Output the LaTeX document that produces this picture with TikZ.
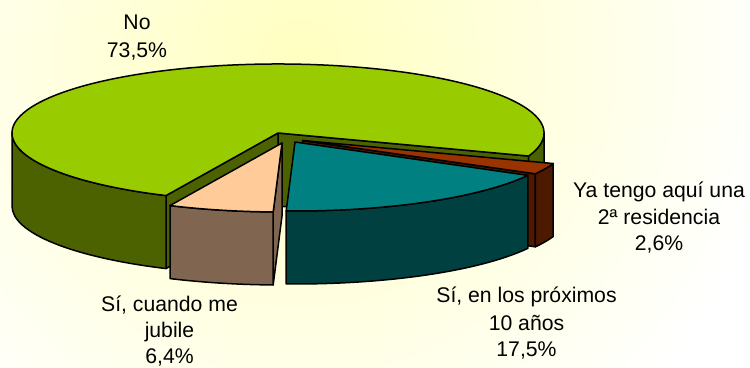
\documentclass[tikz,border=0pt]{standalone}
\usepackage{fontspec}
\setmainfont{Liberation Sans}
\definecolor{bgIn}{HTML}{FFFFC0}
\definecolor{noTop}{HTML}{99CC00}
\definecolor{noSide}{HTML}{4C6100}
\definecolor{siTop}{HTML}{008080}
\definecolor{siSide}{HTML}{004040}
\definecolor{yaTop}{HTML}{993300}
\definecolor{yaSide}{HTML}{4D1A00}
\definecolor{juTop}{HTML}{FFCC99}
\definecolor{juSide}{HTML}{806650}
% cut face: cx, cy, angle, colour
\newcommand\pieCut[4]{\filldraw[edge,fill=#4] (#1,#2) -- ({#1+266*cos(#3)},{#2+69*sin(#3)}) -- ++(0,-73) -- (#1,#2-73) -- cycle;}
% outer wall: cx, cy, a, b, colour
\newcommand\pieWall[5]{\filldraw[edge,fill=#5] ({#1+266*cos(#3)},{#2+69*sin(#3)}) arc[start angle=#3,end angle=#4,x radius=266,y radius=69] -- ++(0,-73) arc[start angle=#4,end angle=#3,x radius=266,y radius=69] -- cycle;}
% top face: cx, cy, a, b, colour
\newcommand\pieTop[5]{\filldraw[edge,fill=#5] (#1,#2) -- ({#1+266*cos(#3)},{#2+69*sin(#3)}) arc[start angle=#3,end angle=#4,x radius=266,y radius=69] -- cycle;}
\begin{document}
\begin{tikzpicture}[x=1pt,y=1pt,
  edge/.style={draw=black,line width=1.5pt,line join=round},
  lbl/.style={inner sep=0pt,anchor=base,font=\fontsize{21.2}{26}\selectfont}]
\useasboundingbox (0,0) rectangle (750,367);
\fill[white] (0,0) rectangle (750,367);
\begin{scope}
  \clip (0,0) rectangle (750,367);
  \shade[inner color=bgIn,outer color=white] (300,307) circle (480);
\end{scope}
% No (73,5%)
\pieCut{278}{234}{-19.5}{noSide}
\pieCut{278}{234}{245.1}{noSide}
\pieWall{278}{234}{-19.5}{0}{noSide}
\pieWall{278}{234}{180}{245.1}{noSide}
\pieTop{278}{234}{-19.5}{245.1}{noTop}
% Ya tengo aqui una 2a residencia (2,6%)
\pieCut{302.5}{226.5}{331.1}{yaSide}
\pieWall{302.5}{226.5}{331.1}{340.5}{yaSide}
\pieTop{302.5}{226.5}{331.1}{340.5}{yaTop}
% Si, en los proximos 10 anos (17,5%)
\pieWall{295}{225}{268.1}{331.1}{siSide}
\pieTop{295}{225}{268.1}{331.1}{siTop}
% Si, cuando me jubile (6,4%)
\pieCut{282}{224}{268.1}{juSide}
\pieWall{282}{224}{245.1}{268.1}{juSide}
\pieTop{282}{224}{245.1}{268.1}{juTop}
% labels
\node[lbl] (noA) at (137,337) {No};
\node[lbl] (noB) at (137,309.7) {73,5\%};
\node[lbl] (yaA) at (659,169.7) {Ya tengo aquí una};
\node[lbl] (yaB) at (659,142.3) {2ª residencia};
\node[lbl] (yaC) at (659,116.3) {2,6\%};
\node[lbl] (siA) at (526.5,64.5) {Sí, en los próximos};
\node[lbl] (siB) at (526.5,37) {10 años};
\node[lbl] (siC) at (526.5,10) {17,5\%};
\node[lbl] (juA) at (169.5,55.3) {Sí, cuando me};
\node[lbl] (juB) at (169.5,29) {jubile};
\node[lbl] (juC) at (169.5,3) {6,4\%};
\end{tikzpicture}
\end{document}
